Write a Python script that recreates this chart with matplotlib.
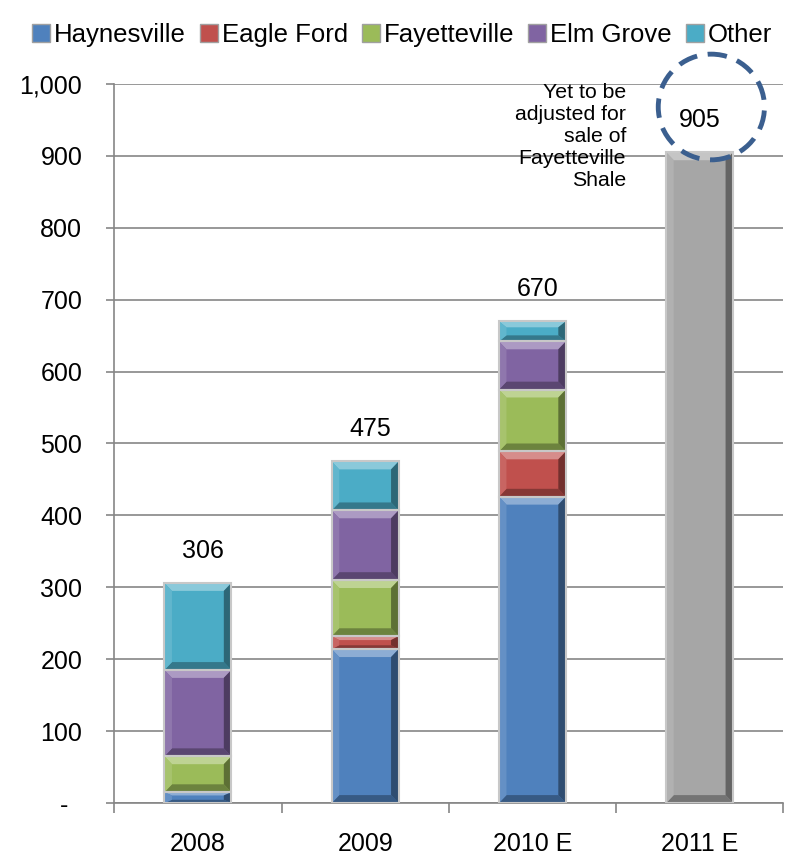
import matplotlib.pyplot as plt
import numpy as np
from matplotlib.patches import Polygon, Ellipse, Patch, Rectangle
from matplotlib.colors import to_rgb
from matplotlib.ticker import FuncFormatter, MultipleLocator, FixedLocator

plt.rcParams['font.family'] = ['Liberation Sans', 'DejaVu Sans']

# data
years = ['2008', '2009', '2010 E', '2011 E']
haynesville = [15, 214, 426, 0]
eagle_ford = [0, 18, 63, 0]
fayetteville = [50, 78, 86, 0]
elm_grove = [120, 97, 67, 0]
other = [121, 68, 28, 0]
estimate_2011 = [0, 0, 0, 905]
totals = [306, 475, 670, 905]

series = [
    ('Haynesville', haynesville, '#4F81BD'),
    ('Eagle Ford', eagle_ford, '#C0504D'),
    ('Fayetteville', fayetteville, '#9BBB59'),
    ('Elm Grove', elm_grove, '#8064A2'),
    ('Other', other, '#4BACC6'),
]


def mix(c, other_c, t):
    c = np.array(to_rgb(c))
    return tuple(c * (1 - t) + np.array(to_rgb(other_c)) * t)


def bevel_bar(ax, xc, y0, h, color, width):
    # plain bar first, then a bevel on top of it
    ax.bar(xc, h, width, bottom=y0, color=color, linewidth=0, zorder=3)
    bx = 0.045
    by = min(11, h * 0.3)
    x0, x1, y1 = xc - width / 2, xc + width / 2, y0 + h
    faces = [
        ([(x0, y1), (x1, y1), (x1 - bx, y1 - by), (x0 + bx, y1 - by)], mix(color, 'white', 0.35)),
        ([(x0, y0), (x1, y0), (x1 - bx, y0 + by), (x0 + bx, y0 + by)], mix(color, 'black', 0.3)),
        ([(x0, y0), (x0, y1), (x0 + bx, y1 - by), (x0 + bx, y0 + by)], mix(color, 'white', 0.12)),
        ([(x1, y0), (x1, y1), (x1 - bx, y1 - by), (x1 - bx, y0 + by)], mix(color, 'black', 0.4)),
    ]
    for pts, fc in faces:
        ax.add_patch(Polygon(pts, closed=True, facecolor=fc, edgecolor='none', zorder=3.5))
    ax.add_patch(Rectangle((x0, y0), width, h, fill=False, edgecolor='#c8c8c8',
                           linewidth=1.5, zorder=4))


fig = plt.figure(figsize=(7.88, 8.57), dpi=100)
ax = fig.add_axes([0.145, 0.063, 0.849, 0.839])

x = np.arange(len(years))
width = 0.4
bottom = np.zeros(len(years))
for name, vals, color in series:
    for i, v in enumerate(vals):
        if v > 0:
            bevel_bar(ax, x[i], bottom[i], v, color, width)
    bottom += np.array(vals)

for i, v in enumerate(estimate_2011):
    if v > 0:
        bevel_bar(ax, x[i], 0, v, '#A6A6A6', width)

# totals above bars
for i in range(3):
    ax.text(x[i] + 0.03, totals[i] + 45, str(totals[i]), ha='center', va='center', fontsize=18)
ax.text(x[3], 950, str(totals[3]), ha='center', va='center', fontsize=18, zorder=6)

ax.add_patch(Ellipse((3.07, 968), 0.635, 147, fill=False, edgecolor='#3B5F8F',
                     linewidth=3.5, linestyle=(0, (4, 2.2)), clip_on=False, zorder=6))

ax.text(2.56, 1001, 'Yet to be\nadjusted for\nsale of\nFayetteville\nShale',
        ha='right', va='top', fontsize=15.3, zorder=6)

# axes styling
ax.set_xlim(-0.5, 3.5)
ax.set_ylim(0, 1000)
ax.yaxis.set_major_locator(MultipleLocator(100))
ax.yaxis.set_major_formatter(FuncFormatter(lambda v, p: '-  ' if v == 0 else f'{v:,.0f}'))
ax.grid(axis='y', color='#868686', linewidth=1.2, zorder=0)
ax.set_axisbelow(True)

ax.xaxis.set_major_locator(FixedLocator([-0.5, 0.5, 1.5, 2.5, 3.5]))
ax.xaxis.set_major_formatter(FuncFormatter(lambda v, p: ''))
ax.xaxis.set_minor_locator(FixedLocator(x))
ax.set_xticklabels(years, minor=True)
ax.tick_params(axis='x', which='major', length=7, color='#868686', width=1.2)
ax.tick_params(axis='x', which='minor', length=0, pad=21, labelsize=18)
ax.tick_params(axis='y', length=6, color='#868686', width=1.2, labelsize=18, pad=17)

for s in ['top', 'right']:
    ax.spines[s].set_visible(False)
for s in ['left', 'bottom']:
    ax.spines[s].set_color('#868686')
    ax.spines[s].set_linewidth(1.2)

handles = [Patch(facecolor=c, edgecolor='#a0a0a0', label=n) for n, v, c in series]
fig.legend(handles=handles, loc='upper center', bbox_to_anchor=(0.51, 1.0), ncol=5,
           frameon=False, fontsize=18.5, handlelength=0.7, handleheight=0.7,
           handletextpad=0.15, columnspacing=0.55, borderaxespad=0.5)

fig.savefig('out.png', dpi=100)
